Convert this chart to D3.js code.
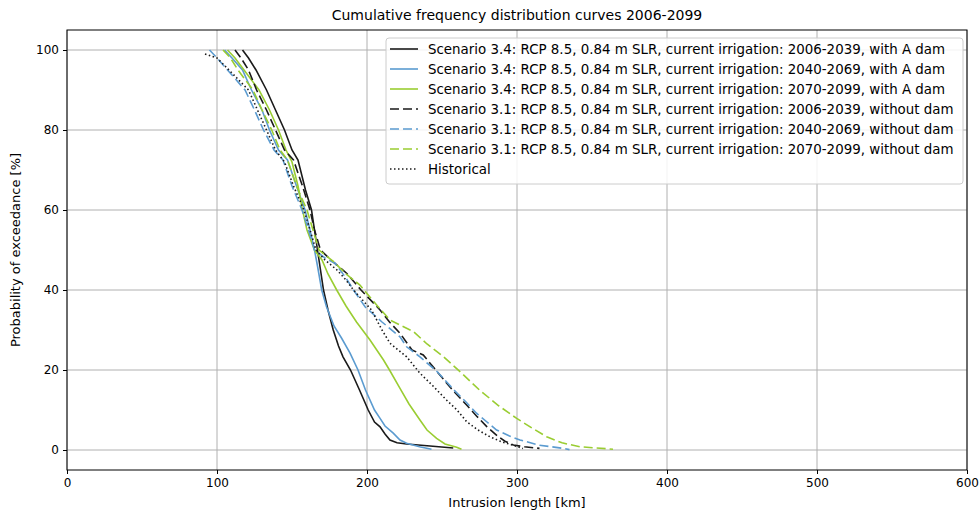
<!DOCTYPE html>
<html>
<head>
<meta charset="utf-8">
<script src="https://cdn.jsdelivr.net/npm/d3@7"></script>
<style>
  body { margin: 0; background: #fff; }
  text { font-family: "DejaVu Sans", sans-serif; fill: #000; }
</style>
</head>
<body>
<div id="chart"></div>
<script>
// intrusion length [km] vs probability of exceedance [%]
const s34_2006 = [[117,100],[121,98],[126,95],[133,90],[139,85],[145,80],[150,75],[154,72.5],[159,65],[163,60],[165,55],[167,50],[169,45],[171,40],[174,35],[177.5,30],[181,26],[184,23.3],[189,20],[195,15],[200.8,10],[205,7],[208.7,5.8],[212,4],[215.3,2.5],[220,1.8],[226.4,1.5],[242,1.0],[257.5,0.5]];
const s34_2040 = [[105,100],[110,98],[117,95],[123,90],[130,85],[135,80],[141,75],[147,72.5],[153,66],[158.7,60],[162,55],[165,50],[167,46],[169.8,40],[173,35.8],[178,31],[183,28],[188.7,24.2],[194,20],[199,15],[205,10],[208.7,7.9],[212,6],[217.5,4.2],[222,2.5],[226.4,1.7],[235,0.8],[243,0.2]];
const s34_2070 = [[107,100],[112,98],[118,95],[128,90],[135,85],[141,80],[146,75],[150,72],[154,66],[157,60],[160,55],[165,50],[170,47.5],[174,44],[179.8,40],[186,36],[193,32],[202,27.5],[211,22.5],[215,20],[222,15.4],[228,11.5],[235.3,7.5],[240,5],[246.4,2.9],[252,1.5],[259.8,0.7],[263,0.2]];
const s31_2006 = [[112,100],[116,98],[121,95],[126.4,90],[133,85],[139,80],[145,75],[151,72.5],[157,66],[162,60],[165,55],[169,50],[176,47.5],[186.4,44.2],[196,40],[208.7,35],[215,32],[222,29.2],[230,25],[237.5,23.75],[247.6,19.2],[257,15],[266.4,11.25],[273,8.5],[280,5.8],[287,3.5],[292,2.2],[297.6,1.25],[305,0.8],[315,0.4]];
const s31_2040 = [[95,100],[100,98],[107,95],[118.7,90],[125,85],[131,80],[138,75],[144,72.5],[150,66],[156.7,60],[161,55],[165,50],[172,48],[178.7,46.7],[186,43],[191,40],[198.7,35.8],[210,32],[222,28.3],[226.4,25.8],[235.3,23.3],[247,19.5],[258,15],[266,12],[273,9.2],[280,7],[286.4,5],[295,3.5],[302,2.5],[315,1.2],[331,0.4],[335,0.1]];
const s31_2070 = [[104,100],[109,98],[114,95],[124,90],[130,85],[136.5,80],[142,75],[147,72.5],[153,66],[160,60],[164,55],[168,50],[178,47],[186,44],[195.3,41.25],[198,40],[207,36],[215.3,32.5],[231,29.6],[240,26.5],[251,23.3],[262,19.6],[275,15],[288,11],[299.8,7.9],[310,5.5],[319.8,3.3],[330,1.8],[342,0.8],[364,0.2]];
const historical = [[92,99],[100,98],[108,95],[121,90],[127,85],[133,80],[139,75],[145,72],[151,66],[158,60],[162,55],[166,50],[172,47.5],[180,45],[186,42.5],[191,40],[203,35],[210,30],[215.3,26.7],[226.4,23.3],[235.3,19.2],[244,16],[253,12.5],[260,10],[266.4,7.1],[274,5],[282,3.3],[290,2],[297,1.25],[304,0.4]];

const labels = [
  "Scenario 3.4: RCP 8.5, 0.84 m SLR, current irrigation: 2006-2039, with A dam",
  "Scenario 3.4: RCP 8.5, 0.84 m SLR, current irrigation: 2040-2069, with A dam",
  "Scenario 3.4: RCP 8.5, 0.84 m SLR, current irrigation: 2070-2099, with A dam",
  "Scenario 3.1: RCP 8.5, 0.84 m SLR, current irrigation: 2006-2039, without dam",
  "Scenario 3.1: RCP 8.5, 0.84 m SLR, current irrigation: 2040-2069, without dam",
  "Scenario 3.1: RCP 8.5, 0.84 m SLR, current irrigation: 2070-2099, without dam",
  "Historical"
];
const xTicks = [0, 100, 200, 300, 400, 500, 600];
const yTicks = [0, 20, 40, 60, 80, 100];

const black = "#1a1a1a", blue = "#5b9bd0", green = "#9acd32";
const series = [
  {data: s34_2006, color: black, dash: null},
  {data: s34_2040, color: blue, dash: null},
  {data: s34_2070, color: green, dash: null},
  {data: s31_2006, color: black, dash: "9,4"},
  {data: s31_2040, color: blue, dash: "9,4"},
  {data: s31_2070, color: green, dash: "9,4"},
  {data: historical, color: black, dash: "1.5,2.5"}
];

const W = 979, H = 512;
const margin = {top: 30, right: 12, bottom: 42, left: 67};
const width = W - margin.left - margin.right,
      height = H - margin.top - margin.bottom;

const svg = d3.select("#chart").append("svg")
  .attr("width", W).attr("height", H);

const g = svg.append("g")
  .attr("transform", "translate(" + margin.left + "," + margin.top + ")");

const x = d3.scaleLinear().domain([0, 600]).range([0, width]);
const y = d3.scaleLinear().domain([-5, 105]).range([height, 0]);

// grid
g.append("g").selectAll("line").data(xTicks).enter().append("line")
  .attr("x1", d => x(d)).attr("x2", d => x(d))
  .attr("y1", 0).attr("y2", height)
  .attr("stroke", "#b0b0b0").attr("stroke-width", 1);
g.append("g").selectAll("line").data(yTicks).enter().append("line")
  .attr("x1", 0).attr("x2", width)
  .attr("y1", d => y(d)).attr("y2", d => y(d))
  .attr("stroke", "#b0b0b0").attr("stroke-width", 1);

// axes
const xAxis = g.append("g")
  .attr("transform", "translate(0," + height + ")")
  .call(d3.axisBottom(x).tickValues(xTicks).tickSize(4).tickPadding(4));
const yAxis = g.append("g")
  .call(d3.axisLeft(y).tickValues(yTicks).tickSize(4).tickPadding(4));
[xAxis, yAxis].forEach(a => {
  a.select(".domain").remove();
  a.selectAll("text").style("font-size", "12px").style("font-family", "DejaVu Sans");
  a.selectAll("line").attr("stroke", "#000");
});

// lines
const line = d3.line().x(d => x(d[0])).y(d => y(d[1]));
series.forEach(s => {
  g.append("path")
    .datum(s.data)
    .attr("fill", "none")
    .attr("stroke", s.color)
    .attr("stroke-width", 1.6)
    .attr("stroke-dasharray", s.dash)
    .attr("d", line);
});

// frame
g.append("rect")
  .attr("width", width).attr("height", height)
  .attr("fill", "none").attr("stroke", "#000").attr("stroke-width", 1);

// title and axis labels
svg.append("text")
  .attr("x", margin.left + width / 2).attr("y", 20)
  .style("text-anchor", "middle").style("font-size", "14px")
  .text("Cumulative frequency distribution curves 2006-2099");
svg.append("text")
  .attr("x", margin.left + width / 2).attr("y", 507)
  .style("text-anchor", "middle").style("font-size", "13px")
  .text("Intrusion length [km]");
svg.append("text")
  .attr("transform", "translate(20," + (margin.top + height / 2) + ") rotate(-90)")
  .style("text-anchor", "middle").style("font-size", "13px")
  .text("Probability of exceedance [%]");

// legend
const legend = svg.append("g").attr("transform", "translate(386,38)");
legend.append("rect")
  .attr("width", 577).attr("height", 146).attr("rx", 3)
  .attr("fill", "#fff").attr("fill-opacity", 0.85)
  .attr("stroke", "#ccc");
series.forEach((s, i) => {
  const row = legend.append("g").attr("transform", "translate(0," + (11 + i * 20) + ")");
  row.append("line")
    .attr("x1", 4).attr("x2", 32)
    .attr("stroke", s.color).attr("stroke-width", 1.6)
    .attr("stroke-dasharray", s.dash);
  row.append("text")
    .attr("x", 42).attr("y", 4.5)
    .style("font-size", "13.4px")
    .text(labels[i]);
});
</script>
</body>
</html>
